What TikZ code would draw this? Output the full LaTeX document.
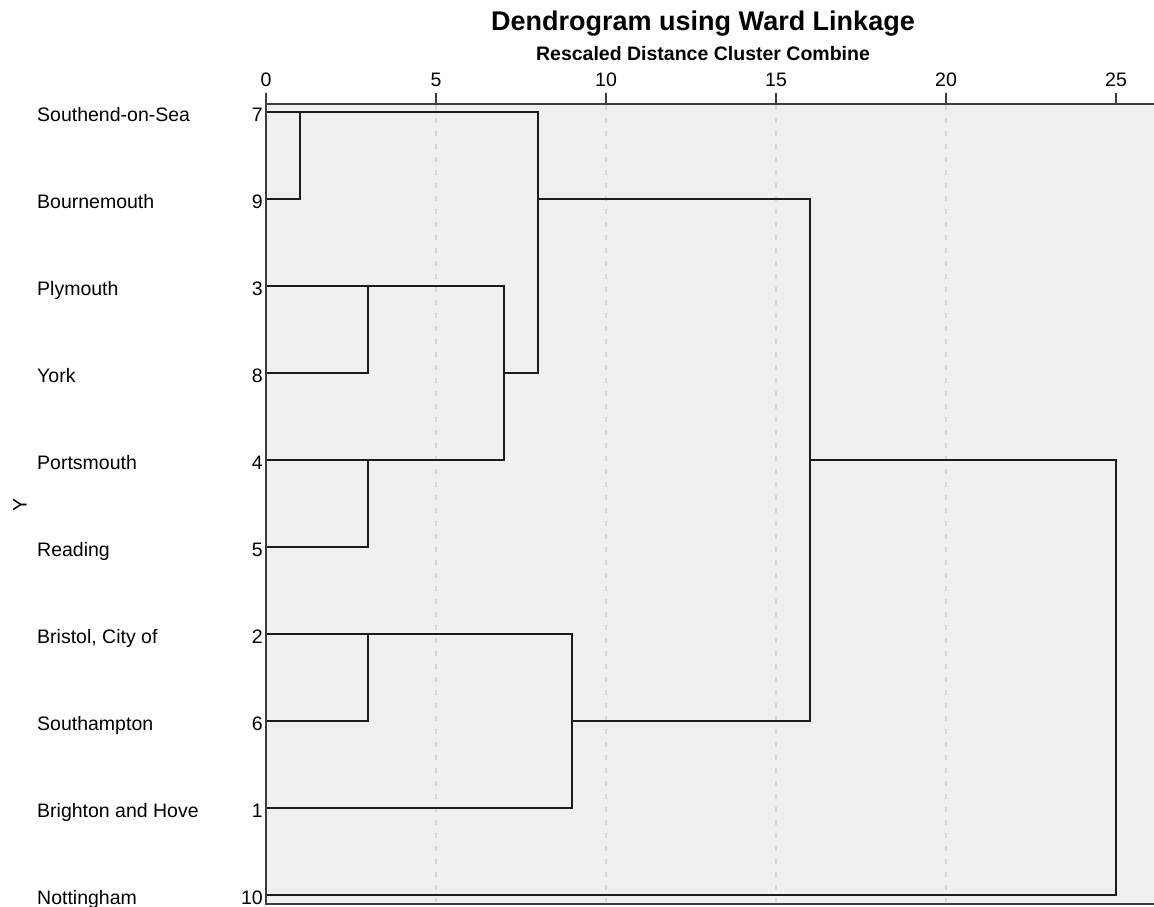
\documentclass[tikz,border=0pt]{standalone}
\usepackage{fontspec}
\setmainfont{Liberation Sans}
\usetikzlibrary{positioning}
\definecolor{plotbg}{RGB}{240,240,240}
\definecolor{gridgray}{RGB}{212,212,212}
\definecolor{linkdark}{RGB}{28,28,28}

\begin{document}
\begin{tikzpicture}[
    x=1pt, y=-1pt,
    link/.style={draw=linkdark, line width=1.6pt},
    frame/.style={draw=linkdark!85, line width=2pt},
    grid/.style={draw=gridgray, line width=1.3pt, dash pattern=on 5pt off 8pt},
    city/.style={anchor=base west, inner sep=0pt, font=\fontsize{19.5}{22}\selectfont},
    case/.style={anchor=base east, inner sep=0pt, font=\fontsize{19.5}{22}\selectfont},
    ticklabel/.style={anchor=base, inner sep=0pt, font=\fontsize{19.5}{22}\selectfont}
  ]
    \useasboundingbox (0,0) rectangle (1154,906);
    \fill[plotbg] (266,103) rectangle (1154,904);

    % titles
    \node[anchor=base, font=\bfseries\fontsize{27}{30}\selectfont] (title) at (703,30) {Dendrogram using Ward Linkage};
    \node[anchor=base, font=\bfseries\fontsize{19.5}{22}\selectfont] (subtitle) at (703,60) {Rescaled Distance Cluster Combine};
    \node[rotate=90, font=\fontsize{19.5}{22}\selectfont] (ylabel) at (20,505) {Y};

    % scale
    \foreach \v in {5,10,15,20}
      \draw[grid] (266+34*\v,105) -- (266+34*\v,902);
    \foreach \v in {0,5,...,25} {
      \draw[frame] (266+34*\v,93) -- (266+34*\v,103);
      \node[ticklabel] (tick\v) at (266+34*\v,86) {\v};
    }

    % leaves
    \coordinate (l7) at (266,112);
    \coordinate (l9) at (266,199);
    \coordinate (l3) at (266,286);
    \coordinate (l8) at (266,373);
    \coordinate (l4) at (266,460);
    \coordinate (l5) at (266,547);
    \coordinate (l2) at (266,634);
    \coordinate (l6) at (266,721);
    \coordinate (l1) at (266,808);
    \coordinate (l10) at (266,895);

    \node[city] (southend) at (37,121) {Southend-on-Sea};
    \node[city] (bournemouth) at (37,208) {Bournemouth};
    \node[city] (plymouth) at (37,295) {Plymouth};
    \node[city] (york) at (37,382) {York};
    \node[city] (portsmouth) at (37,469) {Portsmouth};
    \node[city] (reading) at (37,556) {Reading};
    \node[city] (bristol) at (37,643) {Bristol, City of};
    \node[city] (southampton) at (37,730) {Southampton};
    \node[city] (brighton) at (37,817) {Brighton and Hove};
    \node[city] (nottingham) at (37,904) {Nottingham};

    \node[case] (n7) at (263,121) {7};
    \node[case] (n9) at (263,208) {9};
    \node[case] (n3) at (263,295) {3};
    \node[case] (n8) at (263,382) {8};
    \node[case] (n4) at (263,469) {4};
    \node[case] (n5) at (263,556) {5};
    \node[case] (n2) at (263,643) {2};
    \node[case] (n6) at (263,730) {6};
    \node[case] (n1) at (263,817) {1};
    \node[case] (n10) at (263,904) {10};

    % merges
    \coordinate (c79) at (300,112);
    \coordinate (c38) at (368,286);
    \coordinate (c45) at (368,460);
    \coordinate (c3845) at (504,373);
    \coordinate (ctop) at (538,199);
    \coordinate (c26) at (368,634);
    \coordinate (c261) at (572,721);
    \coordinate (cbig) at (810,460);
    \coordinate (call) at (1116,460);

    \draw[link] (l7) -| (c79) |- (l9);
    \draw[link] (l3) -| (c38) |- (l8);
    \draw[link] (l4) -| (c45) |- (l5);
    \draw[link] (c38) -| (c3845) |- (c45);
    \draw[link] (c79) -| (ctop) |- (c3845);
    \draw[link] (l2) -| (c26) |- (l6);
    \draw[link] (c26) -| (c261) |- (l1);
    \draw[link] (ctop) -| (cbig) |- (c261);
    \draw[link] (cbig) -| (call) |- (l10);

    % frame
    \draw[frame] (266,103.5) -- (1154,103.5);
    \draw[frame] (266,102.5) -- (266,904.5);
    \draw[frame] (266,903.5) -- (1154,903.5);
  \end{tikzpicture}
\end{document}
